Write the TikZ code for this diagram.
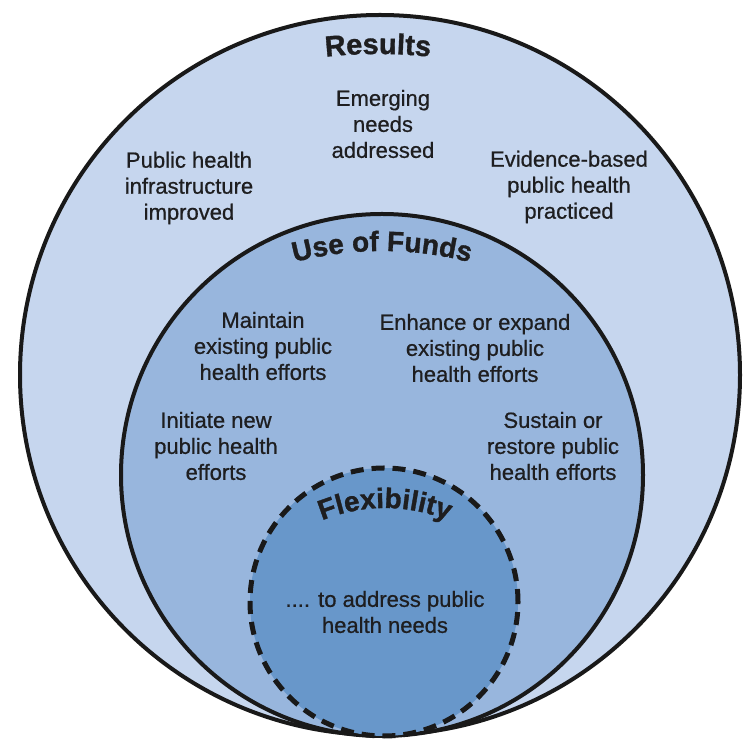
\documentclass[tikz,border=0pt]{standalone}
\usepackage{fontspec}
\setmainfont{Liberation Sans}
\newfontfamily\medfont[RawFeature={embolden=0.7}]{Liberation Sans}
\newfontfamily\heavyfont[RawFeature={embolden=1.2}]{Liberation Sans Bold}
\usetikzlibrary{decorations.text}
\definecolor{outerfill}{RGB}{198,214,238}
\definecolor{midfill}{RGB}{152,182,221}
\definecolor{innerfill}{RGB}{104,151,202}
\definecolor{txtcol}{RGB}{30,30,32}
\tikzset{
  ring/.style={line width=4pt, draw=black!90},
  dashring/.style={line width=5pt, draw=black!90, dash pattern=on 13pt off 8pt},
  label/.style={align=center, text=txtcol, font=\medfont\fontsize{22}{26}\selectfont, inner sep=0pt},
  arctitle/.style={decorate, decoration={text along path, text align=center,
     text={#1}}},
}
\begin{document}
\begin{tikzpicture}[x=1pt,y=1pt]
\useasboundingbox (0,0) rectangle (750,755);
% circles
\fill[outerfill] (380,380) circle[radius=360pt];
\draw[ring] (380,380) circle[radius=360pt];
\fill[midfill] (382,280) circle[radius=261pt];
\draw[ring] (382,280) circle[radius=261pt];
\fill[innerfill] (384,153) circle[radius=134pt];
\draw[dashring] (384,153) circle[radius=134pt];
% arched titles
\path[arctitle={|\color{txtcol}\heavyfont\fontsize{29}{30}\selectfont|Results}]
  (378,201) ++(100:500pt) arc[start angle=100, end angle=80, radius=500pt];
\path[arctitle={|\color{txtcol}\heavyfont\fontsize{28}{30}\selectfont|Use of Funds}]
  (382,154) ++(110:350pt) arc[start angle=110, end angle=70, radius=350pt];
\path[arctitle={|\color{txtcol}\heavyfont\fontsize{28}{30}\selectfont|Flexibility}]
  (385,82) ++(140:165pt) arc[start angle=140, end angle=40, radius=165pt];
% labels
\node[label] (emerging) at (383,631) {Emerging\\needs\\addressed};
\node[label] (infra) at (189,567) {Public health\\infrastructure\\improved};
\node[label] (evidence) at (569,568) {Evidence-based\\public health\\practiced};
\node[label] (maintain) at (263,409) {Maintain\\existing public\\health efforts};
\node[label] (enhance) at (475,407) {Enhance or expand\\existing public\\health efforts};
\node[label] (initiate) at (216,309) {Initiate new\\public health\\efforts};
\node[label] (sustain) at (553,309) {Sustain or\\restore public\\health efforts};
\node[label] (address) at (385,143) {.... to address public\\health needs};
\end{tikzpicture}
\end{document}
